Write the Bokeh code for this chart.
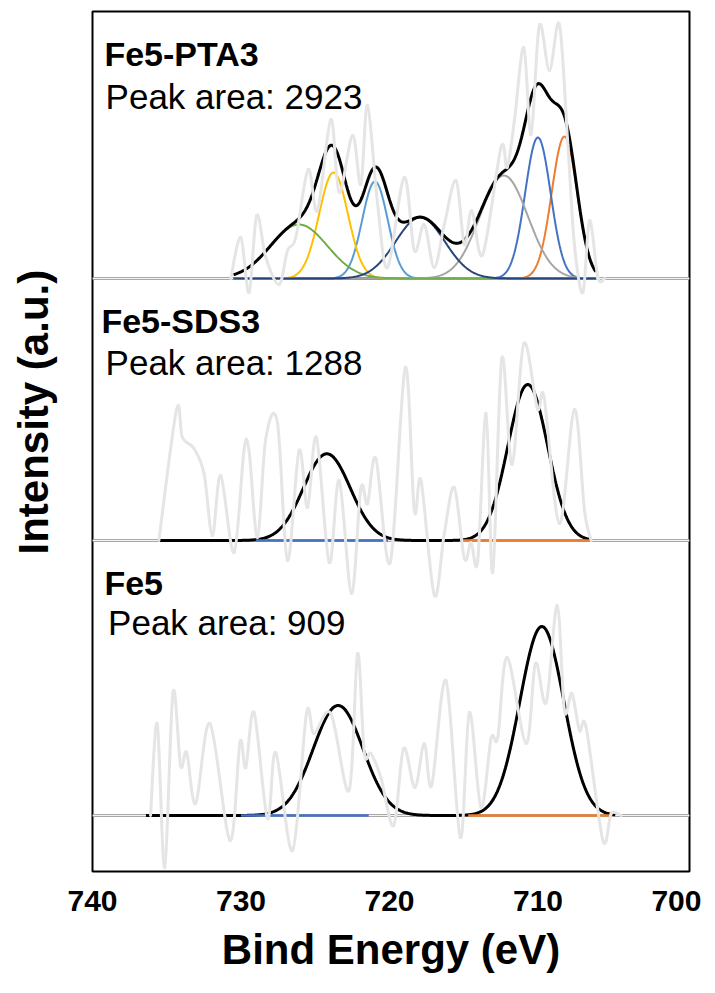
import numpy as np
from bokeh.plotting import figure
from bokeh.layouts import row
from bokeh.models import Range1d, Span, Label, FixedTicker
from bokeh.embed import file_html
from bokeh.resources import INLINE

# ---------------- data (binding energy in eV, intensity in a.u.) ----------------
x_ticks = [740, 730, 720, 710, 700]

# vertical offsets of the three stacked spectra
pta3_offset = 593
sds3_offset = 331
fe5_offset = 56

# raw (measured) spectra, light grey
pta3_raw_e = [730.69, 730.02, 729.46, 728.94, 728.33, 727.44, 726.87, 726.31, 725.48, 724.85,
              723.95, 723.39, 722.49, 721.93, 721.48, 720.80, 720.13, 719.01, 718.33, 717.66,
              716.99, 716.31, 715.52, 714.96, 714.46, 713.72, 712.49, 712.08, 711.59, 710.96,
              710.47, 709.91, 709.23, 708.56, 707.99, 707.55, 706.98, 706.53, 705.97, 705.52]
pta3_raw_i = [0, 41, -14, 63, 21, -6, 28, 41, 109, 68,
              159, 86, 143, 94, 173, 74, 11, 101, 28, 54,
              11, 54, 98, 34, 68, 24, 131, 111, 158, 231,
              144, 253, 208, 254, 134, 34, -14, 58, 1, 0]

sds3_raw_e = [735.53, 734.34, 733.95, 733.17, 732.49, 731.93, 731.37, 730.47, 729.80, 729.46,
              728.89, 728.33, 727.55, 726.87, 726.09, 725.52, 724.92, 724.06, 723.39, 722.56,
              721.93, 721.48, 720.92, 719.95, 718.94, 718.33, 717.88, 716.98, 716.31, 715.64,
              714.96, 714.51, 714.06, 713.50, 713.05, 712.44, 711.75, 710.96, 710.04, 709.59,
              708.56, 707.55, 706.87, 706.42]
sds3_raw_i = [0, 131, 103, 92, 67, 5, 65, -12, 90, 90,
              3, 102, 118, -20, 90, 33, 103, -22, 60, -53,
              52, 37, 82, -22, 173, 30, 60, -55, 7, 53,
              -18, -2, -20, 127, -32, 182, 76, 197, 132, 143,
              17, 131, 30, 0]

fe5_raw_e = [736.09, 735.64, 735.14, 734.58, 734.07, 733.66, 733.05, 732.09, 730.74, 730.07,
             729.68, 729.12, 728.22, 727.66, 726.53, 725.59, 725.08, 723.95, 722.72, 722.15,
             721.70, 721.25, 720.58, 719.72, 719.05, 718.29, 717.66, 717.16, 716.20, 715.23,
             714.62, 713.84, 713.16, 712.71, 712.08, 710.80, 710.17, 709.45, 708.71, 708.22,
             707.72, 707.21, 706.76, 705.63, 705.07, 704.40]
fe5_raw_i = [0, 92, -52, 123, 50, 63, 12, 92, -25, 73,
             48, 103, -3, 63, -35, 102, 82, 102, 25, 162,
             63, 62, 38, -10, 67, 28, 72, 30, 135, -22,
             103, 8, 77, 78, 158, 72, 152, 113, 210, 105,
             122, 85, 88, -25, 2, 0]

# fitted Gaussian components: centre (eV), height (a.u.), FWHM (eV), drawn range (eV)
pta3_centers = [726.10, 723.77, 720.98, 717.93, 712.30, 710.01, 708.22]
pta3_heights = [54, 106, 97, 61, 103, 141, 142]
pta3_fwhm = [4.5, 2.29, 2.02, 3.9, 3.8, 2.02, 2.02]
pta3_colors = ["#70AD47", "#FFC000", "#5B9BD5", "#264478", "#A5A5A5", "#4472C4", "#ED7D31"]
pta3_comp_ranges = [[730.5, 706.1]] * 7
pta3_draw_order = [6, 5, 4, 2, 1, 0, 3]
pta3_fit_range = [730.5, 706.1]
pta3_bg_ranges = []          # background lines of each fitted region
pta3_bg_colors = []

sds3_centers = [724.22, 710.69]
sds3_heights = [86.7, 156]
sds3_fwhm = [3.71, 3.15]
sds3_colors = ["#4472C4", "#ED7D31"]
sds3_comp_ranges = [[729.0, 720.1], [715.2, 706.5]]
sds3_draw_order = [0, 1]
sds3_fit_range = [735.6, 706.5]
sds3_bg_ranges = [[729.0, 720.1], [715.2, 706.5]]
sds3_bg_colors = ["#4472C4", "#ED7D31"]

fe5_centers = [723.46, 709.74]
fe5_heights = [110, 189]
fe5_fwhm = [3.95, 3.48]
fe5_colors = ["#4472C4", "#ED7D31"]
fe5_comp_ranges = [[730.0, 721.4], [714.7, 705.1]]
fe5_draw_order = [0, 1]
fe5_fit_range = [736.4, 704.8]
fe5_bg_ranges = [[730.0, 721.4], [714.7, 705.1]]
fe5_bg_colors = ["#4472C4", "#ED7D31"]

panel_names = ["Fe5-PTA3", "Fe5-SDS3", "Fe5"]
peak_areas = [2923, 1288, 909]

FONT = "Liberation Sans"
TOTAL_H = 983

# ---------------- narrow strip holding the vertical axis title ----------------
side = figure(frame_width=67, frame_height=TOTAL_H,
              x_range=Range1d(0, 67), y_range=Range1d(0, TOTAL_H),
              output_backend="svg", toolbar_location=None,
              x_axis_location=None, y_axis_location=None,
              min_border=0, outline_line_color=None)
side.xgrid.visible = False
side.ygrid.visible = False
side.background_fill_color = "white"
side.border_fill_color = "white"
side.add_layout(Label(x=33, y=TOTAL_H - 543, text="Intensity (a.u.)", angle=np.pi / 2,
                      text_align="left", text_baseline="alphabetic",
                      text_font=FONT, text_font_style="bold", text_font_size="42px",
                      text_color="black"))

# ---------------- main figure ----------------
p = figure(frame_width=597, frame_height=860,
           x_range=Range1d(740, 699.8), y_range=Range1d(0, 860),
           output_backend="svg", toolbar_location=None,
           y_axis_location=None,
           min_border_left=25, min_border_right=12,
           min_border_top=11, min_border_bottom=112)
p.background_fill_color = "white"
p.border_fill_color = "white"
p.xgrid.visible = False
p.ygrid.visible = False
p.outline_line_color = "black"
p.outline_line_width = 2
p.outline_line_alpha = 1.0

ax = p.xaxis[0]
ax.ticker = FixedTicker(ticks=x_ticks)
ax.axis_line_color = None
ax.major_tick_line_color = None
ax.minor_tick_line_color = None
ax.major_tick_out = 0
ax.major_tick_in = 0
ax.major_label_standoff = 19
ax.major_label_text_font = FONT
ax.major_label_text_font_style = "bold"
ax.major_label_text_font_size = "30px"
ax.major_label_text_color = "black"
ax.axis_label = "Bind Energy (eV)"
ax.axis_label_text_font = FONT
ax.axis_label_text_font_style = "bold"
ax.axis_label_text_font_size = "42px"
ax.axis_label_text_color = "black"
ax.axis_label_standoff = 12


def gauss(e, c, h, w):
    s = w / 2.3548
    return h * np.exp(-0.5 * ((e - c) / s) ** 2)


def smooth_segments(xs, ys):
    """Cubic Bezier segments through the read points (Excel-style smoothed line)."""
    xs = np.asarray(xs, float)
    ys = np.asarray(ys, float)
    n = len(xs)
    xp = np.concatenate([[xs[0]], xs, [xs[-1]]])
    yp = np.concatenate([[ys[0]], ys, [ys[-1]]])
    i = np.arange(1, n)
    x0, y0 = xp[i], yp[i]
    x1, y1 = xp[i + 1], yp[i + 1]
    cx0 = x0 + (xp[i + 1] - xp[i - 1]) / 6.0
    cy0 = y0 + (yp[i + 1] - yp[i - 1]) / 6.0
    cx1 = x1 - (xp[i + 2] - xp[i]) / 6.0
    cy1 = y1 - (yp[i + 2] - yp[i]) / 6.0
    return dict(x0=x0, y0=y0, x1=x1, y1=y1, cx0=cx0, cy0=cy0, cx1=cx1, cy1=cy1)


panels = [
    (pta3_offset, pta3_raw_e, pta3_raw_i, pta3_centers, pta3_heights, pta3_fwhm,
     pta3_colors, pta3_comp_ranges, pta3_draw_order, pta3_fit_range, pta3_bg_ranges, pta3_bg_colors),
    (sds3_offset, sds3_raw_e, sds3_raw_i, sds3_centers, sds3_heights, sds3_fwhm,
     sds3_colors, sds3_comp_ranges, sds3_draw_order, sds3_fit_range, sds3_bg_ranges, sds3_bg_colors),
    (fe5_offset, fe5_raw_e, fe5_raw_i, fe5_centers, fe5_heights, fe5_fwhm,
     fe5_colors, fe5_comp_ranges, fe5_draw_order, fe5_fit_range, fe5_bg_ranges, fe5_bg_colors),
]

for off, re_, ri_, cs, hs, ws, cols, crs, order, rng, bgr, bgc in panels:
    # baseline (double grey line)
    p.add_layout(Span(location=off, dimension="width", line_color="#a8a8a8",
                      line_width=3, level="underlay"))
    p.add_layout(Span(location=off, dimension="width", line_color="#f4f4f4",
                      line_width=1, level="underlay"))
    for k in order:
        ec = np.linspace(crs[k][0], crs[k][1], 400)
        p.line(ec, gauss(ec, cs[k], hs[k], ws[k]) + off, line_color=cols[k], line_width=2)
    e = np.linspace(rng[0], rng[1], 600)
    total = np.zeros_like(e)
    for c, h, w in zip(cs, hs, ws):
        total += gauss(e, c, h, w)
    p.line(e, total + off, line_color="black", line_width=3)
    for r, col in zip(bgr, bgc):
        p.segment(x0=[r[0]], y0=[off], x1=[r[1]], y1=[off], line_color=col, line_width=2.5)
    seg = smooth_segments(re_, np.array(ri_, float) + off)
    p.bezier(x0=seg["x0"], y0=seg["y0"], x1=seg["x1"], y1=seg["y1"],
             cx0=seg["cx0"], cy0=seg["cy0"], cx1=seg["cx1"], cy1=seg["cy1"],
             line_color="#e5e5e5", line_width=3, line_cap="round")

# panel labels
label_pos = [
    (739.2, 818, 739.12, 775),
    (739.4, 551, 739.12, 509),
    (739.2, 289, 738.95, 249),
]
for name, area, (xn, yn, xa, ya) in zip(panel_names, peak_areas, label_pos):
    p.add_layout(Label(x=xn, y=yn, text=name, text_font=FONT, text_font_style="bold",
                       text_font_size="34px", text_color="black",
                       text_baseline="alphabetic"))
    p.add_layout(Label(x=xa, y=ya, text="Peak area: %d" % area, text_font=FONT,
                       text_font_size="35px", text_color="black",
                       text_baseline="alphabetic"))

layout = row(side, p, spacing=0)
open("out.html", "w").write(file_html(layout, INLINE))
